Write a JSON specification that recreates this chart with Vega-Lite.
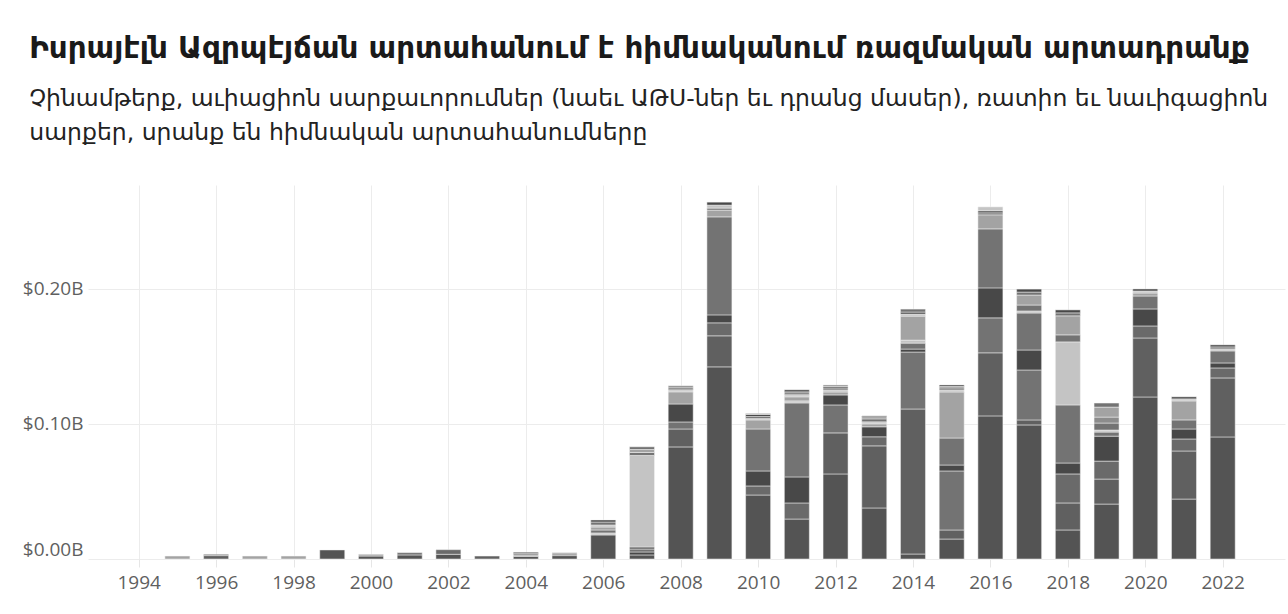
{
"$schema": "https://vega.github.io/schema/vega-lite/v6.json",
"width": 1197, "height": 374,
"autosize": {"type": "none"},
"padding": {"left": 88, "top": 185, "right": 3, "bottom": 55},
"background": "white",
"title": {
 "text": "Իսրայէլն Ազրպէյճան արտահանում է հիմնականում ռազմական արտադրանք",
 "subtitle": ["Չինամթերք, աւիացիոն սարքաւորումներ (նաեւ ԱԹՍ-ներ եւ դրանց մասեր), ռատիո եւ նաւիգացիոն", "սարքեր, սրանք են հիմնական արտահանումները"],
 "anchor": "start", "dx": 7, "offset": 40,
 "font": "DejaVu Sans", "fontSize": 29.4, "fontWeight": "bold", "color": "#1a1a1a",
 "subtitleFont": "DejaVu Sans", "subtitleFontSize": 23.5, "subtitleColor": "#222", "subtitleLineHeight": 34, "subtitlePadding": 22
},
"data": {"values": [
{"year":1995,"seg":1,"cat":"F","value":0.0022},
{"year":1996,"seg":1,"cat":"B","value":0.0025},{"year":1996,"seg":2,"cat":"C","value":0.001},
{"year":1997,"seg":1,"cat":"F","value":0.0022},
{"year":1998,"seg":1,"cat":"F","value":0.0022},
{"year":1999,"seg":1,"cat":"A","value":0.0067},
{"year":2000,"seg":1,"cat":"A","value":0.0022},{"year":2000,"seg":2,"cat":"F","value":0.0013},
{"year":2001,"seg":1,"cat":"A","value":0.003},{"year":2001,"seg":2,"cat":"C","value":0.0017},
{"year":2002,"seg":1,"cat":"A","value":0.0035},{"year":2002,"seg":2,"cat":"E","value":0.0034},
{"year":2003,"seg":1,"cat":"B","value":0.0022},
{"year":2004,"seg":1,"cat":"A","value":0.002},{"year":2004,"seg":2,"cat":"F","value":0.001},{"year":2004,"seg":3,"cat":"C","value":0.001},{"year":2004,"seg":4,"cat":"D","value":0.001},
{"year":2005,"seg":1,"cat":"A","value":0.0025},{"year":2005,"seg":2,"cat":"C","value":0.0012},{"year":2005,"seg":3,"cat":"F","value":0.001},
{"year":2006,"seg":1,"cat":"A","value":0.0178},{"year":2006,"seg":2,"cat":"G","value":0.0015},{"year":2006,"seg":3,"cat":"C","value":0.0022},{"year":2006,"seg":4,"cat":"F","value":0.0022},{"year":2006,"seg":5,"cat":"G","value":0.0015},{"year":2006,"seg":6,"cat":"C","value":0.0022},{"year":2006,"seg":7,"cat":"D","value":0.0015},
{"year":2007,"seg":1,"cat":"A","value":0.003},{"year":2007,"seg":2,"cat":"D","value":0.0022},{"year":2007,"seg":3,"cat":"C","value":0.0022},{"year":2007,"seg":4,"cat":"A","value":0.0015},{"year":2007,"seg":5,"cat":"G","value":0.0678},{"year":2007,"seg":6,"cat":"C","value":0.0022},{"year":2007,"seg":7,"cat":"F","value":0.0022},{"year":2007,"seg":8,"cat":"C","value":0.002},
{"year":2008,"seg":1,"cat":"A","value":0.083},{"year":2008,"seg":2,"cat":"B","value":0.0133},{"year":2008,"seg":3,"cat":"C","value":0.0052},{"year":2008,"seg":4,"cat":"D","value":0.0133},{"year":2008,"seg":5,"cat":"F","value":0.009},{"year":2008,"seg":6,"cat":"G","value":0.0015},{"year":2008,"seg":7,"cat":"C","value":0.0015},{"year":2008,"seg":8,"cat":"H","value":0.0015},
{"year":2009,"seg":1,"cat":"A","value":0.1423},{"year":2009,"seg":2,"cat":"B","value":0.023},{"year":2009,"seg":3,"cat":"E","value":0.0096},{"year":2009,"seg":4,"cat":"D","value":0.0059},{"year":2009,"seg":5,"cat":"C","value":0.0726},{"year":2009,"seg":6,"cat":"F","value":0.005},{"year":2009,"seg":7,"cat":"C","value":0.0015},{"year":2009,"seg":8,"cat":"G","value":0.0022},{"year":2009,"seg":9,"cat":"D","value":0.0022},
{"year":2010,"seg":1,"cat":"A","value":0.0474},{"year":2010,"seg":2,"cat":"E","value":0.0067},{"year":2010,"seg":3,"cat":"D","value":0.0111},{"year":2010,"seg":4,"cat":"C","value":0.0311},{"year":2010,"seg":5,"cat":"F","value":0.0067},{"year":2010,"seg":6,"cat":"G","value":0.001},{"year":2010,"seg":7,"cat":"C","value":0.0015},{"year":2010,"seg":8,"cat":"D","value":0.0015},{"year":2010,"seg":9,"cat":"H","value":0.0008},
{"year":2011,"seg":1,"cat":"A","value":0.0296},{"year":2011,"seg":2,"cat":"E","value":0.0119},{"year":2011,"seg":3,"cat":"D","value":0.0193},{"year":2011,"seg":4,"cat":"C","value":0.0548},{"year":2011,"seg":5,"cat":"G","value":0.0015},{"year":2011,"seg":6,"cat":"F","value":0.003},{"year":2011,"seg":7,"cat":"G","value":0.0015},{"year":2011,"seg":8,"cat":"H","value":0.0022},{"year":2011,"seg":9,"cat":"D","value":0.0015},
{"year":2012,"seg":1,"cat":"A","value":0.063},{"year":2012,"seg":2,"cat":"B","value":0.0304},{"year":2012,"seg":3,"cat":"C","value":0.0207},{"year":2012,"seg":4,"cat":"D","value":0.0074},{"year":2012,"seg":5,"cat":"F","value":0.0022},{"year":2012,"seg":6,"cat":"G","value":0.0015},{"year":2012,"seg":7,"cat":"C","value":0.0015},{"year":2012,"seg":8,"cat":"D","value":0.0011},{"year":2012,"seg":9,"cat":"H","value":0.0011},
{"year":2013,"seg":1,"cat":"A","value":0.0378},{"year":2013,"seg":2,"cat":"B","value":0.046},{"year":2013,"seg":3,"cat":"E","value":0.0067},{"year":2013,"seg":4,"cat":"D","value":0.0074},{"year":2013,"seg":5,"cat":"F","value":0.0022},{"year":2013,"seg":6,"cat":"G","value":0.0015},{"year":2013,"seg":7,"cat":"C","value":0.0022},{"year":2013,"seg":8,"cat":"H","value":0.0015},{"year":2013,"seg":9,"cat":"D","value":0.0007},
{"year":2014,"seg":1,"cat":"A","value":0.0037},{"year":2014,"seg":2,"cat":"B","value":0.1074},{"year":2014,"seg":3,"cat":"C","value":0.0422},{"year":2014,"seg":4,"cat":"D","value":0.0022},{"year":2014,"seg":5,"cat":"C","value":0.0044},{"year":2014,"seg":6,"cat":"G","value":0.0022},{"year":2014,"seg":7,"cat":"F","value":0.0178},{"year":2014,"seg":8,"cat":"G","value":0.0015},{"year":2014,"seg":9,"cat":"D","value":0.0015},{"year":2014,"seg":10,"cat":"C","value":0.0022},
{"year":2015,"seg":1,"cat":"A","value":0.0148},{"year":2015,"seg":2,"cat":"B","value":0.0067},{"year":2015,"seg":3,"cat":"C","value":0.0437},{"year":2015,"seg":4,"cat":"D","value":0.0044},{"year":2015,"seg":5,"cat":"C","value":0.02},{"year":2015,"seg":6,"cat":"F","value":0.0341},{"year":2015,"seg":7,"cat":"G","value":0.0015},{"year":2015,"seg":8,"cat":"C","value":0.0015},{"year":2015,"seg":9,"cat":"H","value":0.0011},{"year":2015,"seg":10,"cat":"D","value":0.0011},
{"year":2016,"seg":1,"cat":"A","value":0.106},{"year":2016,"seg":2,"cat":"B","value":0.0467},{"year":2016,"seg":3,"cat":"C","value":0.0259},{"year":2016,"seg":4,"cat":"D","value":0.0222},{"year":2016,"seg":5,"cat":"C","value":0.0437},{"year":2016,"seg":6,"cat":"F","value":0.0104},{"year":2016,"seg":7,"cat":"C","value":0.0015},{"year":2016,"seg":8,"cat":"D","value":0.0015},{"year":2016,"seg":9,"cat":"G","value":0.0029},
{"year":2017,"seg":1,"cat":"A","value":0.0993},{"year":2017,"seg":2,"cat":"B","value":0.0037},{"year":2017,"seg":3,"cat":"C","value":0.037},{"year":2017,"seg":4,"cat":"D","value":0.0148},{"year":2017,"seg":5,"cat":"C","value":0.0274},{"year":2017,"seg":6,"cat":"G","value":0.0015},{"year":2017,"seg":7,"cat":"C","value":0.0044},{"year":2017,"seg":8,"cat":"F","value":0.0074},{"year":2017,"seg":9,"cat":"C","value":0.0022},{"year":2017,"seg":10,"cat":"D","value":0.0022},
{"year":2018,"seg":1,"cat":"A","value":0.0215},{"year":2018,"seg":2,"cat":"B","value":0.02},{"year":2018,"seg":3,"cat":"E","value":0.0215},{"year":2018,"seg":4,"cat":"D","value":0.0081},{"year":2018,"seg":5,"cat":"C","value":0.043},{"year":2018,"seg":6,"cat":"G","value":0.0467},{"year":2018,"seg":7,"cat":"C","value":0.0052},{"year":2018,"seg":8,"cat":"F","value":0.0141},{"year":2018,"seg":9,"cat":"C","value":0.0022},{"year":2018,"seg":10,"cat":"D","value":0.0022},
{"year":2019,"seg":1,"cat":"A","value":0.0407},{"year":2019,"seg":2,"cat":"B","value":0.0185},{"year":2019,"seg":3,"cat":"E","value":0.0133},{"year":2019,"seg":4,"cat":"D","value":0.0185},{"year":2019,"seg":5,"cat":"C","value":0.003},{"year":2019,"seg":6,"cat":"G","value":0.0015},{"year":2019,"seg":7,"cat":"C","value":0.0052},{"year":2019,"seg":8,"cat":"H","value":0.0044},{"year":2019,"seg":9,"cat":"F","value":0.0074},{"year":2019,"seg":10,"cat":"C","value":0.003},
{"year":2020,"seg":1,"cat":"A","value":0.12},{"year":2020,"seg":2,"cat":"B","value":0.0437},{"year":2020,"seg":3,"cat":"E","value":0.0089},{"year":2020,"seg":4,"cat":"D","value":0.0126},{"year":2020,"seg":5,"cat":"C","value":0.0096},{"year":2020,"seg":6,"cat":"F","value":0.0022},{"year":2020,"seg":7,"cat":"G","value":0.0015},{"year":2020,"seg":8,"cat":"D","value":0.0015},
{"year":2021,"seg":1,"cat":"A","value":0.0444},{"year":2021,"seg":2,"cat":"B","value":0.0356},{"year":2021,"seg":3,"cat":"E","value":0.0089},{"year":2021,"seg":4,"cat":"D","value":0.0074},{"year":2021,"seg":5,"cat":"C","value":0.0067},{"year":2021,"seg":6,"cat":"F","value":0.0141},{"year":2021,"seg":7,"cat":"G","value":0.0015},{"year":2021,"seg":8,"cat":"D","value":0.0015},
{"year":2022,"seg":1,"cat":"A","value":0.0904},{"year":2022,"seg":2,"cat":"B","value":0.0437},{"year":2022,"seg":3,"cat":"E","value":0.0074},{"year":2022,"seg":4,"cat":"D","value":0.0037},{"year":2022,"seg":5,"cat":"C","value":0.0089},{"year":2022,"seg":6,"cat":"G","value":0.0015},{"year":2022,"seg":7,"cat":"C","value":0.0015},{"year":2022,"seg":8,"cat":"D","value":0.0015}
]},
"mark": {"type": "bar", "size": 25, "stroke": "#f4f4f4", "strokeWidth": 0.5},
"encoding": {
 "x": {"field": "year", "type": "quantitative",
   "scale": {"domain": [1992.82, 2023.48], "nice": false, "zero": false},
   "axis": {"title": null, "values": [1994,1996,1998,2000,2002,2004,2006,2008,2010,2012,2014,2016,2018,2020,2022], "format": "d",
     "domain": false, "ticks": true, "tickSize": 8, "tickColor": "#e6e6e6", "labelPadding": 6,
     "grid": true, "gridColor": "#ececec", "labelFont": "Open Sans", "labelFontSize": 19, "labelColor": "#5f5f5f", "labelFlush": false}},
 "y": {"field": "value", "type": "quantitative", "stack": "zero",
   "scale": {"domain": [0, 0.277], "nice": false},
   "axis": {"title": null, "values": [0, 0.1, 0.2], "labelExpr": "'$' + format(datum.value, '.2f') + 'B'",
     "domain": false, "ticks": false, "labelPadding": 5, "labelFlush": true,
     "grid": true, "gridColor": "#ececec", "labelFont": "Open Sans", "labelFontSize": 19, "labelColor": "#5f5f5f"}},
 "color": {"field": "cat", "type": "nominal", "legend": null,
   "scale": {"domain": ["A","B","C","D","E","F","G","H"], "range": ["#545454","#606060","#737373","#484848","#6a6a6a","#a3a3a3","#c4c4c4","#8c8c8c"]}},
 "order": {"field": "seg", "type": "quantitative"}
},
"config": {"view": {"stroke": null}}
}
